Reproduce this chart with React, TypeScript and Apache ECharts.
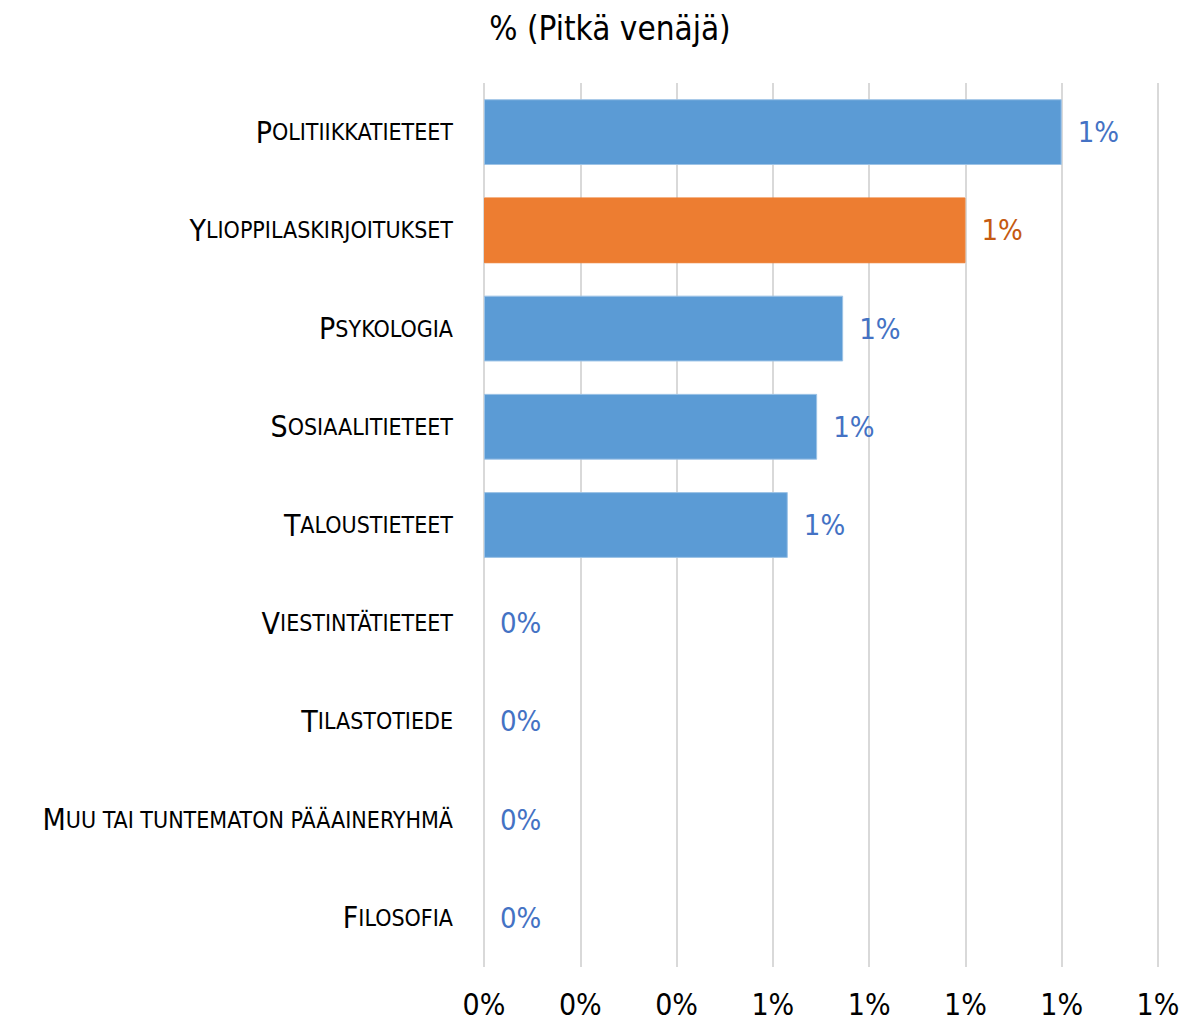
import React, { useEffect, useRef } from "react";
import * as echarts from "echarts";

const categories = [
  "Politiikkatieteet",
  "Ylioppilaskirjoitukset",
  "Psykologia",
  "Sosiaalitieteet",
  "Taloustieteet",
  "Viestintätieteet",
  "Tilastotiede",
  "Muu tai tuntematon pääaineryhmä",
  "Filosofia",
];
const values = [0.012, 0.01, 0.00746, 0.00692, 0.00631, 0, 0, 0, 0];
const highlighted = "Ylioppilaskirjoitukset";
const title = "% (Pitkä venäjä)";
const axisMin = 0;
const axisMax = 0.014;
const axisInterval = 0.002;

const FONT = "'Liberation Sans Narrow', 'DejaVu Sans Condensed', sans-serif";

function smallCaps(s: string): string {
  const first = s.charAt(0).toUpperCase();
  const rest = s.slice(1).toUpperCase();
  return `{big|${first}}{small|${rest}}`;
}

export default function App() {
  const ref = useRef<HTMLDivElement>(null);
  useEffect(() => {
    if (!ref.current) return;
    const chart = echarts.init(ref.current, undefined, { renderer: "svg" });
    const cats = [...categories].reverse();
    const vals = [...values].reverse();
    chart.setOption({
      animation: false,
      backgroundColor: "#ffffff",
      title: {
        text: title,
        left: 605,
        textAlign: "center",
        top: 7,
        textStyle: { fontFamily: FONT, fontSize: 33, fontWeight: "normal", color: "#000" },
      },
      grid: { left: 484, right: 45, top: 83, bottom: 57, containLabel: false },
      xAxis: {
        type: "value",
        min: axisMin,
        max: axisMax,
        interval: axisInterval,
        axisLine: { show: false },
        axisTick: { show: false },
        splitLine: { show: true, lineStyle: { color: "#d9d9d9", width: 2 } },
        axisLabel: {
          fontFamily: FONT,
          fontSize: 30,
          color: "#000",
          margin: 22,
          formatter: (v: number) => `${Math.round(v * 100)}%`,
        },
      },
      yAxis: {
        type: "category",
        data: cats,
        axisLine: { show: false },
        axisTick: { show: false },
        axisLabel: {
          margin: 31,
          formatter: (v: string) => smallCaps(v),
          rich: {
            big: { fontFamily: FONT, fontSize: 30, color: "#000" },
            small: { fontFamily: FONT, fontSize: 23, color: "#000" },
          },
        },
      },
      series: [
        {
          type: "bar",
          barCategoryGap: "33%",
          data: vals.map((v, i) => ({
            value: v,
            itemStyle: {
              color: cats[i] === highlighted ? "#ED7D31" : "#5B9BD5",
              borderColor: cats[i] === highlighted ? "#ED7D31" : "#9DC3E6",
              borderWidth: v > 0 ? 1 : 0,
            },
            label: { color: cats[i] === highlighted ? "#C55A11" : "#4472C4" },
          })),
          label: {
            show: true,
            position: "right",
            distance: 16,
            fontFamily: FONT,
            fontSize: 29,
            formatter: (p: any) => `${Math.round(p.value * 100)}%`,
          },
        },
      ],
    });
    return () => chart.dispose();
  }, []);
  return (
    <div
      ref={ref}
      style={{ position: "fixed", left: 0, top: 0, width: 1203, height: 1024 }}
    />
  );
}
